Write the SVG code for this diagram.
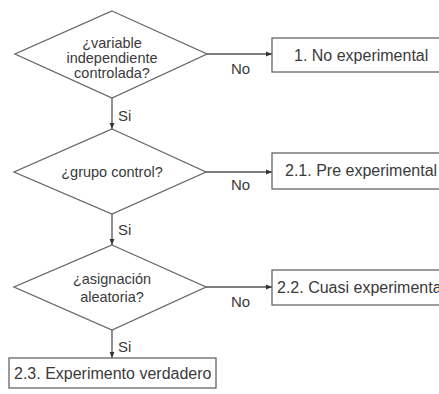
<svg xmlns="http://www.w3.org/2000/svg" width="439" height="394" viewBox="0 0 439 394">
<defs>
<style>
.shape{fill:#ffffff;stroke:#666666;stroke-width:1.3}
.t{font-family:"Liberation Sans",Arial,sans-serif;font-size:15px;fill:#3a3a3a}
.d{font-size:14.5px}
.b{font-size:16px}
.c{text-anchor:middle}
.edge{stroke:#555555;stroke-width:1.3;fill:none;marker-end:url(#ah)}
</style>
<marker id="ah" viewBox="0 0 10 10" refX="10" refY="5" markerWidth="6" markerHeight="6" markerUnits="userSpaceOnUse" orient="auto">
<path d="M0,1 L10,5 L0,9 Z" fill="#333333"/>
</marker>
</defs>
<rect width="439" height="394" fill="#ffffff"/>
<g id="connectors">
<line class="edge" x1="207" y1="54" x2="272" y2="54"/>
<line class="edge" x1="112" y1="98" x2="112" y2="129"/>
<line class="edge" x1="206" y1="172" x2="272" y2="172"/>
<line class="edge" x1="112" y1="214" x2="112" y2="245"/>
<line class="edge" x1="206" y1="287" x2="272" y2="287"/>
<line class="edge" x1="112" y1="330" x2="112" y2="358"/>
<text class="t" x="231" y="74">No</text>
<text class="t" x="231" y="190">No</text>
<text class="t" x="231" y="307">No</text>
<text class="t" x="118" y="121">Si</text>
<text class="t" x="118" y="235">Si</text>
<text class="t" x="118" y="352">Si</text>
</g>
<g id="d1">
<polygon class="shape" points="112,11 207,54 112,98 15,54"/>
<text class="t d c" x="112" y="48">¿variable</text>
<text class="t d c" x="112" y="63">independiente</text>
<text class="t d c" x="112" y="78">controlada?</text>
</g>
<g id="b1">
<rect class="shape" x="272" y="38" width="200" height="34"/>
<text class="t b" x="294" y="61">1. No experimental</text>
</g>
<g id="d2">
<polygon class="shape" points="112,129 206,172 112,214 14,172"/>
<text class="t d c" x="112" y="177">¿grupo control?</text>
</g>
<g id="b2">
<rect class="shape" x="272" y="153" width="200" height="36"/>
<text class="t b" x="285" y="176">2.1. Pre experimental</text>
</g>
<g id="d3">
<polygon class="shape" points="112,245 206,287 112,330 14,287"/>
<text class="t d c" x="112" y="284">¿asignación</text>
<text class="t d c" x="112" y="302">aleatoria?</text>
</g>
<g id="b3">
<rect class="shape" x="272" y="270" width="200" height="35"/>
<text class="t b" x="277" y="293">2.2. Cuasi experimental</text>
</g>
<g id="b4">
<rect class="shape" x="9" y="358" width="207" height="30"/>
<text class="t b" x="14" y="379">2.3. Experimento verdadero</text>
</g>
</svg>
